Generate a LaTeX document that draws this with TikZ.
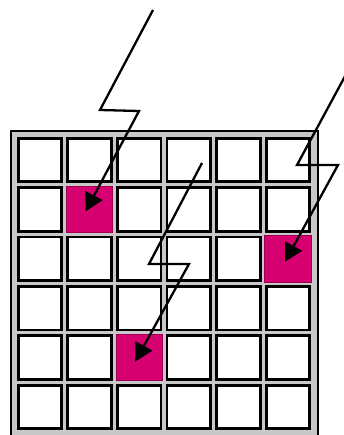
\documentclass[tikz,border=0pt]{standalone}
\usetikzlibrary{arrows.meta,calc,positioning}
\definecolor{hit}{RGB}{214,0,112}
\definecolor{tray}{RGB}{200,200,200}

\begin{document}
\begin{tikzpicture}[x=1pt,y=-1pt,>={Triangle[length=18pt,width=19pt]},
 cell/.style={draw=black,line width=2.8pt,fill=white,minimum size=43.6pt,inner sep=0pt},
 hitcell/.style={draw=hit!75!black,line width=.8pt,fill=hit,minimum size=46.4pt,inner sep=0pt},
 bolt/.style={->,line width=2.3pt,black}]
 \useasboundingbox (0,0) rectangle (344,435);
 \filldraw[fill=tray,draw=black,line width=1.8pt] (11,131) rectangle (318,445);
 % 6x6 grid
 \foreach \i in {0,...,5}{
  \foreach \j in {0,...,5}{
   \node[cell] (c-\i-\j) at (40+49.6*\i,160+49.4*\j) {};
  }
 }
 % struck cells
 \foreach \i/\j in {1/1,5/2,2/4}{
  \node[hitcell] (h-\i-\j) at (c-\i-\j) {};
 }
 % bolts
 \coordinate (s1) at (153,10);
 \coordinate (s2) at (350,67);
 \coordinate (s3) at (202,163);
 \draw[bolt] (s1) -- (100,110) -- (139,111) -- ($(h-1-1.center)+(-4,2)$);
 \draw[bolt] (s2) -- (297,165) -- (338,165) -- ($(h-5-2.center)+(-3,3)$);
 \draw[bolt] (s3) -- (149,264) -- (189,264) -- ($(h-2-4.center)+(-4,4)$);
\end{tikzpicture}
\end{document}
